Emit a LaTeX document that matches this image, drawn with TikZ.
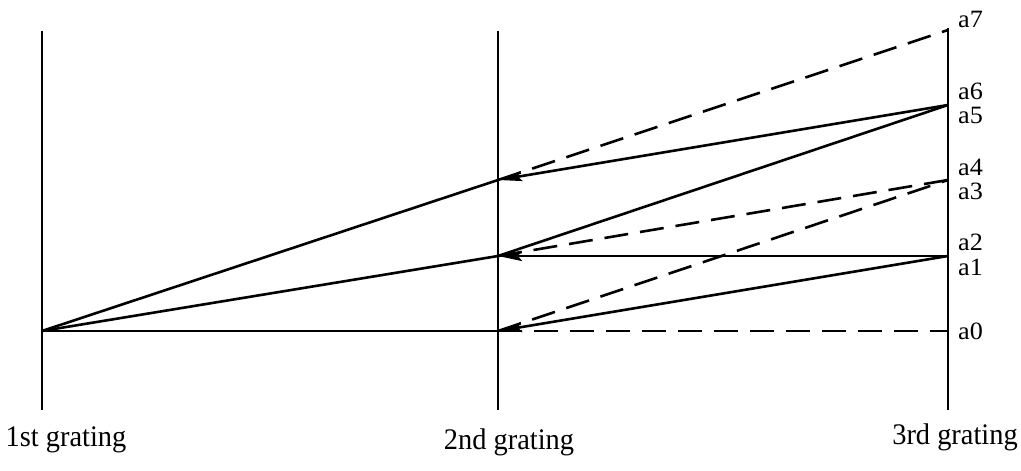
\documentclass[tikz,border=0pt]{standalone}
\usepackage{fontspec}
\setmainfont{Liberation Serif}[FakeStretch=1.05]
\newfontfamily\gratingfont{Liberation Serif}[FakeStretch=0.95]
\usetikzlibrary{positioning,calc,arrows.meta}

\begin{document}
\begin{tikzpicture}[x=1bp,y=-1bp,font=\fontsize{25}{28}\selectfont,
  grating/.style={line width=2.6bp},
  ray/.style={line width=2.6bp},
  back/.style={ray,-{Stealth[length=24bp,width=10bp,inset=4bp]}},
  ghost/.style={line width=2.6bp,dash pattern=on 24bp off 12bp},
  lab/.style={anchor=west,inner sep=0pt},
  gratinglab/.style={inner sep=0pt,font=\gratingfont\fontsize{30}{33}\selectfont}]
  \useasboundingbox (0,0) rectangle (1021,471);
  % gratings
  \draw[grating] (42,31) -- (42,410);
  \draw[grating] (498,31) -- (498,410);
  \draw[grating] (948,28) -- (948,410);
  % points on the gratings
  \coordinate (s) at (42,331);
  \coordinate (b0) at (498,331);
  \coordinate (b1) at (498,256);
  \coordinate (b2) at (498,180);
  \coordinate (c0) at (948,331);
  \coordinate (c1) at (948,256);
  \coordinate (c2) at (948,180);
  \coordinate (c3) at (948,105);
  \coordinate (c4) at (948,30);
  % rays
  \foreach \q in {b0,b1,b2} \draw[ray] (s) -- (\q);
  \draw[ray] (b1) -- (c3);
  \draw[back] (c3) -- (b2);
  \draw[back] (c1) -- (b1);
  \draw[back] (c1) -- (b0);
  \foreach \p/\q in {b2/c4,b1/c2,b0/c2,b0/c0} \draw[ghost] (\p) -- (\q);
  % order labels
  \node[lab] (a7) at (958,19) {a7};
  \node[lab] (a6) at (958,91) {a6};
  \node[lab] (a5) at (958,115) {a5};
  \node[lab] (a4) at (958,167) {a4};
  \node[lab] (a3) at (958,191) {a3};
  \node[lab] (a2) at (958,242) {a2};
  \node[lab] (a1) at (958,267) {a1};
  \node[lab] (a0) at (958,331) {a0};
  \node[gratinglab] (g1) at (66,440) {1st grating};
  \node[gratinglab] (g2) at (509,442) {2nd grating};
  \node[gratinglab] (g3) at (955,437) {3rd grating};
\end{tikzpicture}
\end{document}
